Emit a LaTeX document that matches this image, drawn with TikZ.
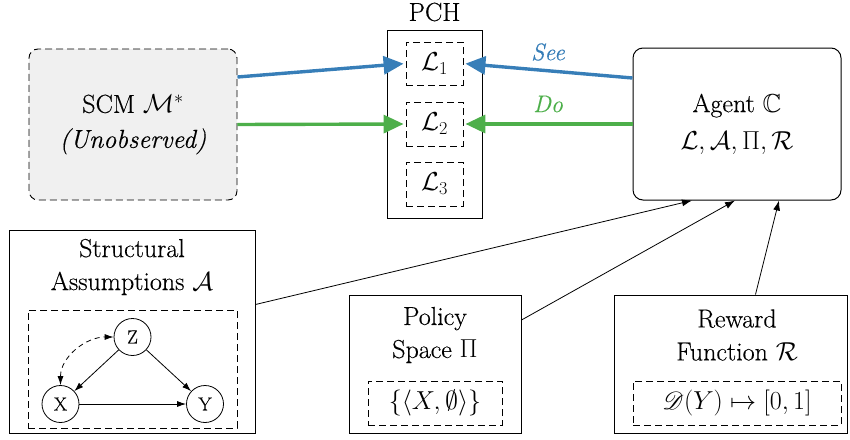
\documentclass[tikz,border=0pt]{standalone}
\usepackage{fix-cm}
\usepackage{amssymb}
\usepackage{mathrsfs}
\usepackage{fontspec}
\setmainfont{Latin Modern Roman}[FakeBold=0.35]
\usetikzlibrary{arrows.meta,calc}
\definecolor{seeblue}{RGB}{55,126,184}
\definecolor{dogreen}{RGB}{77,175,74}
\begin{document}
\begin{tikzpicture}[x=1pt,y=1pt,
  every node/.style={font=\rmfamily\fontsize{26}{33}\selectfont, align=center, inner sep=0pt},
  box/.style={draw, line width=1pt, minimum width=#1},
  dbox/.style={draw, line width=0.9pt, dash pattern=on 7pt off 4pt},
  thick arrow/.style={line width=3.4pt, -{Triangle[length=20pt,width=18pt]}, shorten >=2pt},
  thin arrow/.style={line width=0.8pt, -{Latex[length=10pt,width=7pt]}},
  var/.style={draw, circle, line width=0.8pt, minimum size=37pt, font=\rmfamily\fontsize{19}{24}\selectfont},
  dagarrow/.style={line width=0.8pt, -{Latex[length=9pt,width=6pt]}}]
\useasboundingbox (0,0) rectangle (850,-439);

% SCM
\node[dbox, rounded corners=9pt, fill=black!6, minimum width=208pt, minimum height=151pt] (scm) at (133,-124.5) {SCM $\mathcal{M}^{*}$\\[2pt]\textit{(Unobserved)}};

% PCH
\node[box=95pt, minimum height=188pt] (pch) at (434.5,-124) {};
\node (pchlabel) at (434.5,-12) {PCH};
\node[dbox, minimum width=57pt, minimum height=43pt] (l1) at (434.5,-63.5) {$\mathcal{L}_1$};
\node[dbox, minimum width=57pt, minimum height=44pt] (l2) at (434.5,-124) {$\mathcal{L}_2$};
\node[dbox, minimum width=57pt, minimum height=44pt] (l3) at (434.5,-184) {$\mathcal{L}_3$};

% Agent
\node[box=208pt, rounded corners=10pt, minimum height=152pt] (agent) at (737,-124) {Agent $\mathbb{C}$\\[4pt]$\mathcal{L},\mathcal{A},\Pi,\mathcal{R}$};

% thick arrows
\draw[seeblue, thick arrow] ([yshift=47.5pt]scm.east) -- (l1.west);
\draw[dogreen, thick arrow] (scm.east) -- (l2.west);
\draw[seeblue, thick arrow] ([yshift=46pt]agent.west) -- (l1.east);
\draw[dogreen, thick arrow] (agent.west) -- (l2.east);
\node[text=seeblue, font=\rmfamily\fontsize{24}{30}\selectfont\itshape] (see) at (548,-52) {See};
\node[text=dogreen, font=\rmfamily\fontsize{24}{30}\selectfont\itshape] (do) at (548,-104) {Do};

% Structural assumptions
\node[box=246pt, minimum height=203pt] (sa) at (132,-331.5) {};
\node (satitle) at (132,-267) {Structural\\Assumptions $\mathcal{A}$};
\node[dbox, minimum width=209pt, minimum height=118pt] (sain) at (132.5,-369) {};
\node[var] (z) at (132.5,-337) {Z};
\node[var] (x) at (60.5,-404) {X};
\node[var] (y) at (205,-404) {Y};
\draw[dagarrow] (z) -- (x);
\draw[dagarrow] (z) -- (y);
\draw[dagarrow] (x) -- (y);
\draw[line width=0.8pt, dash pattern=on 5pt off 4pt, {Latex[length=9pt,width=6pt]}-{Latex[length=9pt,width=6pt]}] (x.north) to[out=90,in=180] (z.west);

% Policy
\node[box=172pt, minimum height=138pt] (pol) at (435,-364) {};
\node (poltitle) at (435,-335) {Policy\\Space $\Pi$};
\node[dbox, minimum width=134pt, minimum height=44pt] (polin) at (435,-403) {$\{\langle X,\emptyset\rangle\}$};

% Reward
\node[box=233pt, minimum height=138pt] (rew) at (730.5,-364) {};
\node (rewtitle) at (737,-335) {Reward\\Function $\mathcal{R}$};
\node[dbox, minimum width=208pt, minimum height=44pt] (rewin) at (737,-403) {$\mathscr{D}(Y)\mapsto[0,1]$};

% thin arrows
\draw[thin arrow] ([yshift=27pt]sa.east) -- ([xshift=-45pt]agent.south);
\draw[thin arrow] ([yshift=44pt]pol.east) -- ([xshift=-2pt]agent.south);
\draw[thin arrow] ([xshift=25pt]rew.north) -- ([xshift=42pt]agent.south);
\end{tikzpicture}
\end{document}
